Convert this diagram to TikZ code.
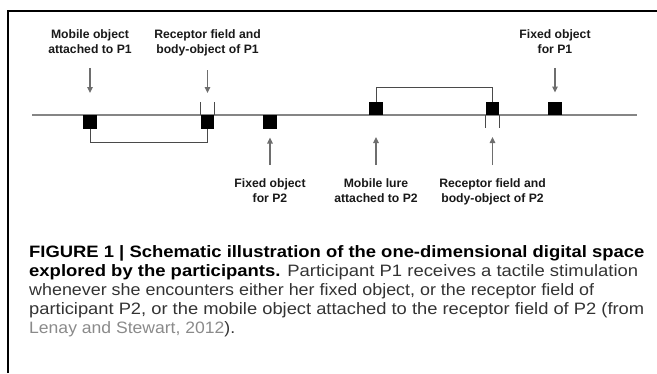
\documentclass[tikz,border=0pt]{standalone}
\usepackage{fontspec}
\setmainfont{Liberation Sans}
\usepackage{graphicx}
\usetikzlibrary{arrows.meta}
\definecolor{axisgray}{HTML}{858585}
\definecolor{arrgray}{HTML}{6E6E6E}
\definecolor{brk}{HTML}{4A4A4A}
\definecolor{captxt}{HTML}{333333}
\definecolor{linkgray}{HTML}{8A8A8A}
\begin{document}
\begin{tikzpicture}[x=1pt,y=-1pt,
  sq/.style={fill=black,draw=none,minimum size=13.5pt,inner sep=0pt,outer sep=0pt},
  lab/.style={font=\fontsize{12.2}{15}\selectfont\bfseries,align=center,inner sep=0pt,text=black!90},
  arr/.style={draw=arrgray,line width=1.3pt,-{Triangle[length=6pt,width=5.5pt]}},
  brack/.style={draw=brk,line width=1pt},
  axisline/.style={draw=axisgray,line width=1.6pt},
  captionline/.style={anchor=base west,inner sep=0pt,font=\fontsize{16.5}{19}\selectfont,text=captxt}
]
\useasboundingbox (0,0) rectangle (657,373);
% frame
\draw[line width=1.2pt] (8,373) -- (8,11) -- (657,11);
% axis
\coordinate (axL) at (32,115);
\coordinate (axR) at (637,115);
\draw[axisline] (axL) -- (axR);
% squares
\node[sq] (s1) at (90,121.75) {};
\node[sq] (s2) at (207.5,121.75) {};
\node[sq] (s3) at (270,121.75) {};
\node[sq] (s4) at (376,108.25) {};
\node[sq] (s5) at (492.5,108.25) {};
\node[sq] (s6) at (555,108.25) {};
% receptor ticks
\draw[brack] (s2.north west) -- ++(0,-13);
\draw[brack] (s2.north east) -- ++(0,-13);
\draw[brack] (s5.south west) -- ++(0,12.5);
\draw[brack] (s5.south east) -- ++(0,12.5);
% brackets
\draw[brack] (s1.south) -- ++(0,14) -| (s2.south);
\draw[brack] (s4.north) -- ++(0,-14) -| (s5.north);
% top labels
\node[lab,anchor=north] (l1) at (90,29.5) {Mobile object\\attached to P1};
\node[lab,anchor=north] (l2) at (207.5,29.5) {Receptor field and\\body-object of P1};
\node[lab,anchor=north] (l6) at (555,29.5) {Fixed object\\for P1};
% bottom labels
\node[lab,anchor=north] (l3) at (270,178) {Fixed object\\for P2};
\node[lab,anchor=north] (l4) at (376,178) {Mobile lure\\attached to P2};
\node[lab,anchor=north] (l5) at (492.5,178) {Receptor field and\\body-object of P2};
% arrows
\draw[arr,shorten <=14pt,shorten >=22pt] (l1.south) -- (s1.north);
\draw[arr,shorten <=14pt,shorten >=22pt] (l2.south) -- (s2.north);
\draw[arr,shorten <=14pt,shorten >=9pt] (l6.south) -- (s6.north);
\draw[arr,shorten <=13pt,shorten >=9pt] (l3.north) -- (s3.south);
\draw[arr,shorten <=13pt,shorten >=22pt] (l4.north) -- (s4.south);
\draw[arr,shorten <=13pt,shorten >=22pt] (l5.north) -- (s5.south);
% caption
\node[captionline] (c1) at (29,257) {\resizebox{615pt}{\height}{\textbf{\textcolor{black}{FIGURE 1 | Schematic illustration of the one-dimensional digital space}}}};
\node[captionline] (c2) at (29,276) {\resizebox{609pt}{\height}{\textbf{\textcolor{black}{explored by the participants.}} Participant P1 receives a tactile stimulation}};
\node[captionline] (c3) at (29,295) {\resizebox{565pt}{\height}{whenever she encounters either her fixed object, or the receptor field of}};
\node[captionline] (c4) at (29,314) {\resizebox{615pt}{\height}{participant P2, or the mobile object attached to the receptor field of P2 (from}};
\node[captionline] (c5) at (29,333) {\resizebox{206pt}{\height}{\textcolor{linkgray}{Lenay and Stewart, 2012}).}};
\end{tikzpicture}
\end{document}
